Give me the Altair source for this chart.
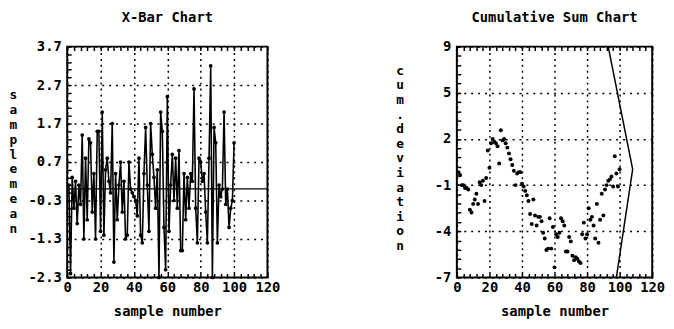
import altair as alt
import pandas as pd

# ---------------- data ----------------
sample = list(range(1, 101))

xbar = [0.1, -2.2, 0.3, -0.5, 0.2, -0.9, 0.1, -0.4, 1.4, -1.3,
        0.8, -0.8, 1.3, 1.2, -0.6, 0.4, -1.3, 1.5, 1.5, -1.1,
        2.0, -1.2, 0.5, 0.8, 0.2, -0.1, 1.7, -1.9, 0.4, -0.8,
        0.1, 0.7, -0.6, 0.2, -1.3, -1.2, 0.7, 0.0, -0.1, -0.2,
        -0.3, -0.7, 0.8, -1.2, -1.4, 0.4, 1.6, 0.1, -1.1, 1.7,
        0.9, 0.3, -0.5, 0.5, -2.3, 2.0, 1.5, -1.0, -2.1, 2.4,
        -1.1, 0.1, 0.9, -0.3, 0.8, -0.5, 1.0, -1.6, -1.6, 0.4,
        -0.8, 0.3, -0.5, 0.4, 0.2, 2.6, -0.5, -1.4, 0.8, 0.7,
        0.2, 0.4, -0.6, -1.4, 0.8, 3.2, -2.3, 1.6, 1.2, -1.4,
        0.1, -0.2, 0.0, 2.0, -0.4, 0.0, -1.0, -0.5, -0.3, 1.2]

cusum = [0.3, 0.1, -0.6, -0.6, -0.8, -0.8, -0.9, -2.3, -2.5, -1.9,
         -1.6, -1.2, -1.9, -0.4, -0.6, -0.3, -1.7, -0.1, 1.8, 0.6,
         2.3, 2.6, 2.4, 2.3, 2.1, 0.9, 3.2, 2.5, 2.6, 2.3,
         2.0, 1.6, 1.2, 0.8, 0.4, -0.6, 0.2, 0.3, 0.3, -0.5,
         -0.7, -1.0, -1.3, -1.7, -2.6, -3.3, -1.6, -2.7, -3.4, -2.8,
         -2.8, -3.1, -3.9, -4.3, -5.1, -5.0, -2.9, -5.0, -3.5, -6.3,
         -4.0, -4.2, -3.9, -2.9, -3.1, -3.4, -5.2, -5.2, -4.2, -4.5,
         -5.5, -5.8, -5.6, -5.7, -5.9, -6.0, -4.0, -3.2, -4.3, -4.0,
         -2.2, -3.0, -2.8, -3.4, -4.3, -1.9, -4.6, -3.0, -1.2, -2.7,
         -0.9, -0.6, -0.3, -0.2, 0.0, -0.7, 1.4, 0.2, -0.7, 0.5]

center_value = [0.0]

vmask_x = [93, 108, 98]
vmask_y = [9.0, 0.5, -7.0]
vmask_order = [1, 2, 3]

x_major = [0, 20, 40, 60, 80, 100, 120]
x_minor = [0, 4, 8, 12, 16, 20, 24, 28, 32, 36, 40, 44, 48, 52, 56, 60,
           64, 68, 72, 76, 80, 84, 88, 92, 96, 100, 104, 108, 112, 116, 120]
xbar_major = [-2.3, -1.3, -0.3, 0.7, 1.7, 2.7, 3.7]
xbar_minor = [round(-2.3 + 0.2 * k, 2) for k in range(31)]
cusum_major = [-7, -3.8, -0.6, 2.6, 5.8, 9]
cusum_minor = [round(-7 + 0.64 * k, 2) for k in range(26)]

FONT = "DejaVu Sans Mono"
FS = 14

df1 = pd.DataFrame({"sample": sample, "mean": xbar})
df2 = pd.DataFrame({"sample": sample, "cusum": cusum})
dfv = pd.DataFrame({"sample": vmask_x, "cusum": vmask_y, "seq": vmask_order})
dfc = pd.DataFrame({"center": center_value})

W1, H1 = 203, 234
W2, H2 = 198, 234

xs = alt.Scale(domain=[0, 120], nice=False, zero=False)
ys1 = alt.Scale(domain=[-2.3, 3.7], nice=False, zero=False)
ys2 = alt.Scale(domain=[-7, 9], nice=False, zero=False)


def main_x():
    return alt.Axis(values=x_major, grid=True, gridColor="black", gridDash=[2, 4],
                    gridWidth=1.5, ticks=False, domain=False, labelPadding=3,
                    labelFont=FONT, labelFontSize=FS, labelColor="black",
                    labelFontWeight="bold", labelFlush=False,
                    title="sample number", titleFont=FONT, titleFontSize=FS,
                    titleFontWeight="bold", titleColor="black", titlePadding=11)


def main_y(values, label_expr, title_lines, title_x, title_y, lh):
    return alt.Axis(values=values, labelExpr=label_expr, grid=True, gridColor="black",
                    gridDash=[2, 5], gridWidth=1.5, ticks=False, domain=False,
                    labelPadding=6, labelFont=FONT, labelFontSize=FS,
                    labelColor="black", labelFontWeight="bold", labelFlush=False,
                    title=title_lines, titleFont=FONT, titleFontSize=13,
                    titleFontWeight="bold", titleColor="black", titleAngle=0,
                    titleAlign="center", titleBaseline="middle", titleLineHeight=lh,
                    titleX=title_x, titleY=title_y)


def minor_axis(values, orient):
    return alt.Axis(values=values, orient=orient, offset=-4, tickSize=4, tickWidth=1.5,
                    tickColor="black", labels=False, domain=False, grid=False, title=None)


lbl1 = "datum.value < 0 ? '-' + format(abs(datum.value), '.1f') : format(datum.value, '.1f')"
lbl2 = "'' + floor(datum.value)"

# ---------------- X-bar chart ----------------
line1 = alt.Chart(df1).mark_line(color="black", strokeWidth=1.6).encode(
    x=alt.X("sample:Q", scale=xs, axis=main_x()),
    y=alt.Y("mean:Q", scale=ys1,
            axis=main_y(xbar_major, lbl1, list("samplemean"), -55, 49, 15)),
)
pts1 = alt.Chart(df1).mark_circle(color="black", size=14, opacity=1).encode(
    x=alt.X("sample:Q", scale=xs, axis=minor_axis(x_minor, "bottom")),
    y=alt.Y("mean:Q", scale=ys1, axis=minor_axis(xbar_minor, "left")),
)
top1 = alt.Chart(df1).mark_point(opacity=0).encode(
    x=alt.X("sample:Q", scale=xs, axis=minor_axis(x_minor, "top")),
    y=alt.Y("mean:Q", scale=ys1, axis=None),
)
cl1 = alt.Chart(dfc).mark_rule(color="black", strokeWidth=1.3).encode(
    y=alt.Y("center:Q", scale=ys1, axis=None),
)
left = alt.layer(line1, pts1, top1, cl1).resolve_axis(
    x="independent", y="independent"
).properties(
    width=W1, height=H1,
    title=alt.TitleParams("X-Bar Chart", font=FONT, fontSize=FS, fontWeight="bold",
                          color="black", anchor="middle", offset=15),
)

# ---------------- Cusum chart ----------------
pts2 = alt.Chart(df2).mark_circle(color="black", size=16, opacity=1).encode(
    x=alt.X("sample:Q", scale=xs, axis=main_x()),
    y=alt.Y("cusum:Q", scale=ys2,
            axis=main_y(cusum_major, lbl2, list("cum.deviation"), -58, 24, 14.8)),
)
vm = alt.Chart(dfv).mark_line(color="black", strokeWidth=1.5).encode(
    x=alt.X("sample:Q", scale=xs, axis=minor_axis(x_minor, "bottom")),
    y=alt.Y("cusum:Q", scale=ys2, axis=minor_axis(cusum_minor, "left")),
    order=alt.Order("seq:Q"),
)
top2 = alt.Chart(df2).mark_point(opacity=0).encode(
    x=alt.X("sample:Q", scale=xs, axis=minor_axis(x_minor, "top")),
    y=alt.Y("cusum:Q", scale=ys2, axis=None),
)
right = alt.layer(pts2, vm, top2).resolve_axis(
    x="independent", y="independent"
).properties(
    width=W2, height=H2,
    title=alt.TitleParams("Cumulative Sum Chart", font=FONT, fontSize=FS, fontWeight="bold",
                          color="black", anchor="middle", offset=15),
)

chart = alt.hconcat(left, right, spacing=192, bounds="flush").properties(
    padding={"left": 0, "top": 0, "right": 0, "bottom": 0},
    background="white",
).configure_view(stroke="black", strokeWidth=2)

chart.save("out.html", embed_options={"renderer": "svg", "actions": False})
